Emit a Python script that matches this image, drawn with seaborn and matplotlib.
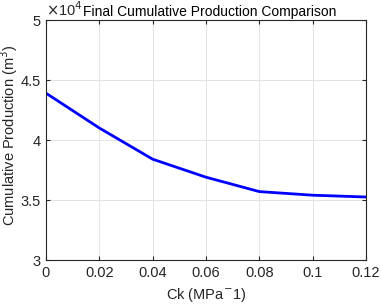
import numpy as np
import pandas as pd
import seaborn as sns
import matplotlib.pyplot as plt

# values (production in units of 1e4 m^3)
ck = [0.0, 0.02, 0.04, 0.06, 0.08, 0.10, 0.12]
production = [4.39, 4.10, 3.84, 3.69, 3.57, 3.54, 3.525]
xticks = [0, 0.02, 0.04, 0.06, 0.08, 0.1, 0.12]
xticklabels = ['0', '0.02', '0.04', '0.06', '0.08', '0.1', '0.12']
yticks = [3, 3.5, 4, 4.5, 5]
yticklabels = ['3', '3.5', '4', '4.5', '5']

sns.set_style('whitegrid')
plt.rcParams['font.family'] = ['Liberation Sans', 'DejaVu Sans']

df = pd.DataFrame({'Ck': ck, 'Production': production})

fig = plt.figure(figsize=(3.81, 3.08), dpi=100)
ax = fig.add_axes([46 / 381, 48 / 308, 320 / 381, 240 / 308])

sns.lineplot(data=df, x='Ck', y='Production', color='#0000ff', linewidth=2, ax=ax)

ax.set_xlim(0, 0.12)
ax.set_ylim(3, 5)
ax.set_xticks(xticks)
ax.set_xticklabels(xticklabels)
ax.set_yticks(yticks)
ax.set_yticklabels(yticklabels)
ax.tick_params(direction='in', length=3, colors='#262626', labelsize=10.5, pad=4,
               top=True, right=True, bottom=True, left=True)
ax.grid(True, color='#e3e3e3', linewidth=0.7)
for s in ax.spines.values():
    s.set_color('#262626')
    s.set_linewidth(0.8)

ax.set_xlabel('Ck (MPa$^{-}$1)', fontsize=10.5, color='#262626', labelpad=5)
ax.set_ylabel('Cumulative Production (m$^{3}$)', fontsize=10.5, color='#262626')
ax.yaxis.set_label_coords(-0.08, 0.52)
ax.text(0.0, 1.005, r'$\times$10$^{4}$', transform=ax.transAxes, fontsize=10.5,
        color='#262626', ha='left', va='bottom')
ax.text(0.51, 1.005, 'Final Cumulative Production Comparison', transform=ax.transAxes,
        fontsize=10, color='#000000', ha='center', va='bottom')

fig.savefig('out.png', dpi=100)
